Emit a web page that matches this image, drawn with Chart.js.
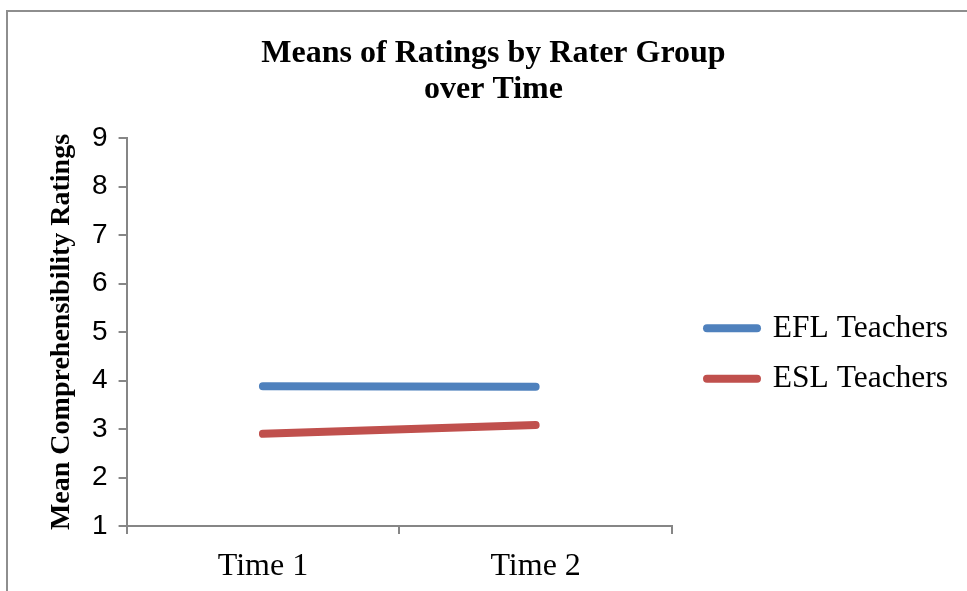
<!DOCTYPE html>
<html>
<head>
<meta charset="utf-8">
<script src="https://cdn.jsdelivr.net/npm/chart.js@4/dist/chart.umd.min.js"></script>
<style>
  body { margin: 0; background: #fff; }
  .wrap { position: relative; width: 967px; height: 591px; overflow: hidden; }
  .frame { position: absolute; left: 6px; top: 10px; width: 1000px; height: 700px; border: 2px solid #8e8e8e; pointer-events: none; }
</style>
</head>
<body>
<div class="wrap">
  <canvas id="myChart" width="967" height="591"></canvas>
  <div class="frame"></div>
</div>
<script>
const timeLabels = ["Time 1", "Time 2"];
const eflValues = [3.88, 3.87];
const eslValues = [2.9, 3.08];
const yTicks = [1, 2, 3, 4, 5, 6, 7, 8, 9];
const axisColor = '#868686'
const legendWidth = 295

// right legend gets only a quarter of the width by default, widen it
const wideLegend = {
  id: 'wideLegend',
  beforeInit(chart) {
    const fit = chart.legend.fit
    chart.legend.fit = function () {
      fit.call(this)
      this.width = legendWidth
    }
  },
  afterLayout(chart) {
    chart.legend.left += 16
  }
}

new Chart("myChart", {
  type: "line",
  data: {
    labels: timeLabels,
    datasets: [{
      label: "EFL Teachers",
      data: eflValues,
      borderColor: '#4F81BD',
      backgroundColor: '#4F81BD',
      borderWidth: 8,
      borderCapStyle: 'round',
      pointRadius: 0,
      tension: 0
    }, {
      label: "ESL Teachers",
      data: eslValues,
      borderColor: '#C0504D',
      backgroundColor: '#C0504D',
      borderWidth: 8,
      borderCapStyle: 'round',
      pointRadius: 0,
      tension: 0
    }]
  },
  plugins: [wideLegend],
  options: {
    responsive: false,
    animation: false,
    layout: {padding: {left: 20, right: 0, top: 0, bottom: -9}},
    plugins: {
      tooltip: {enabled: false},
      title: {
        display: true,
        text: ["Means of Ratings by Rater Group", "over Time"],
        color: '#000',
        font: {family: "'Liberation Serif'", size: 32, weight: 'bold', lineHeight: 1.125},
        padding: {top: 36, bottom: 30}
      },
      legend: {
        position: 'right',
        align: 'center',
        title: {display: true, text: ' ', font: {size: 1, lineHeight: 1}, padding: {top: 106, bottom: 0}},
        labels: {
          usePointStyle: true,
          pointStyle: 'line',
          pointStyleWidth: 50,
          padding: 19,
          color: '#000',
          font: {family: "'Liberation Serif'", size: 31.5},
          generateLabels: (chart) => Chart.defaults.plugins.legend.labels.generateLabels(chart)
            .map(item => ({...item, lineCap: 'round', lineWidth: 8}))
        }
      }
    },
    scales: {
      x: {
        offset: true,
        grid: {offset: true, drawOnChartArea: false, drawTicks: true, tickLength: 8, color: axisColor, lineWidth: 2},
        border: {color: axisColor, width: 2},
        ticks: {color: '#000', padding: 21, maxRotation: 0, autoSkip: false, font: {family: "'Liberation Serif'", size: 32, lineHeight: 0.75}}
      },
      y: {
        min: 1,
        max: 9,
        afterBuildTicks: (scale) => { scale.ticks = yTicks.map(v => ({value: v})) },
        grid: {drawOnChartArea: false, drawTicks: true, tickLength: 8, color: axisColor, lineWidth: 2},
        border: {color: axisColor, width: 2},
        ticks: {color: '#000', padding: 11, font: {family: "'Liberation Sans'", size: 28, lineHeight: 1.2}},
        title: {
          display: true,
          text: "Mean Comprehensibility Ratings",
          color: '#000',
          font: {family: "'Liberation Serif'", size: 28, weight: 'bold', lineHeight: 1},
          padding: {top: 28, bottom: 5}
        }
      }
    }
  }
});
</script>
</body>
</html>
